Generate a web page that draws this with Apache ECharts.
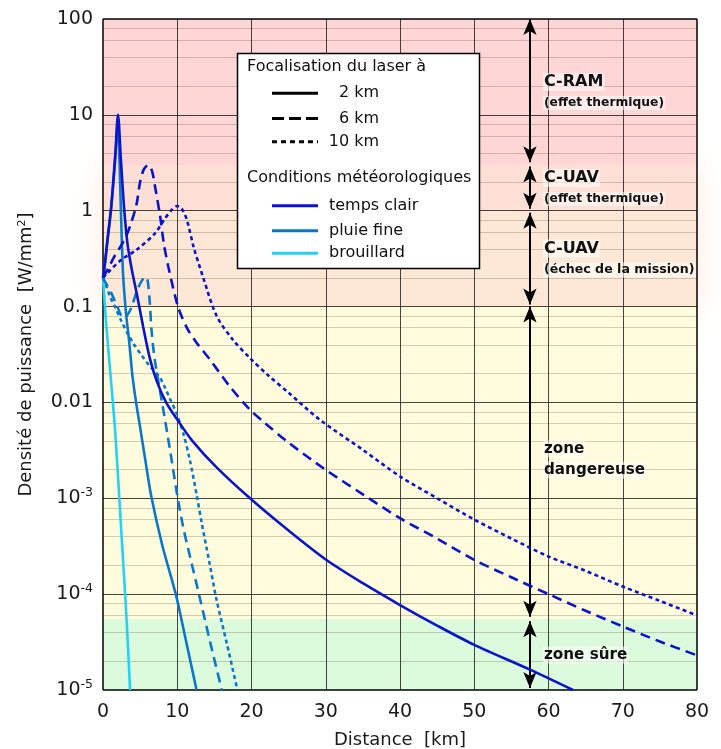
<!DOCTYPE html>
<html><head><meta charset="utf-8">
<script src="https://cdn.jsdelivr.net/npm/echarts@6/dist/echarts.min.js"></script>
<style>html,body{margin:0;padding:0;background:#fff}#c{width:721px;height:749px}</style>
</head><body><div id="c"></div>
<script>
// ---- axis values ----
const xTicks = [0, 10, 20, 30, 40, 50, 60, 70, 80];
const xGridValues = [10, 20, 30, 40, 50, 60, 70];
const decadeValues = [1e-4, 1e-3, 1e-2, 0.1, 1, 10];
const minorValues = [2e-5,4e-5,6e-5,8e-5, 2e-4,4e-4,6e-4,8e-4, 2e-3,4e-3,6e-3,8e-3,
  0.02,0.04,0.06,0.08, 0.2,0.4,0.6,0.8, 2,4,6,8, 20,40,60,80];
const yTickLabels = {'2':'100','1':'10','0':'1','-1':'0.1','-2':'0.01','-3':'10{s|-3}','-4':'10{s|-4}','-5':'10{s|-5}'};

// ---- zones ----
const bandEdges = [1e-5, 5.5e-5, 0.1, 1, 3, 100];
const zoneArrows = [[100, 3.2], [2.9, 1.05], [0.95, 0.105], [0.1, 5.8e-5], [5.2e-5, 1.05e-5]];
const arrowX = 57.5;

// ---- series values [km, W/mm2] ----
const clair2 = [[0,0.2],[0.25,0.28],[0.6,0.5],[1.1,1.1],[1.65,3.8],[2.02,10],[2.4,3.5],[2.85,1.05],[3.3,0.45],[3.85,0.25],[4.6,0.13],[5.4,0.062],[6.3,0.029],[7.2,0.017],[8.5,0.01],[9.9,0.0068],[12,0.004],[15.3,0.0021],[19.8,0.001],[25,4.6e-4],[30,2.3e-4],[35,1.3e-4],[40,7.7e-5],[45,4.7e-5],[50,2.96e-5],[57.5,1.63e-5],[63.3,1e-5]];
const clair6 = [[0,0.2],[0.7,0.25],[1.5,0.33],[2.5,0.44],[3.2,0.56],[3.8,0.75],[4.5,1.15],[5.0,2.0],[5.5,2.7],[6.1,3.0],[6.6,2.6],[7.0,1.8],[7.7,0.87],[8.2,0.45],[8.8,0.26],[10.1,0.1],[11.3,0.06],[12.6,0.042],[14.4,0.028],[17.1,0.0146],[19.8,0.0084],[21.7,0.0062],[25,3.8e-3],[30,1.98e-3],[35,1.1e-3],[40,6.2e-4],[45,3.8e-4],[50,2.28e-4],[55,1.5e-4],[60,1e-4],[65,6.7e-5],[70,4.6e-5],[75,3.2e-5],[80,2.3e-5]];
const clair10 = [[0,0.2],[0.5,0.22],[2.5,0.31],[4.5,0.39],[7,0.58],[8.3,0.82],[9.25,1.02],[10,1.12],[10.6,1.05],[11.3,0.8],[12.2,0.42],[13.5,0.2],[15.3,0.08],[17.5,0.045],[19.8,0.029],[22.3,0.019],[25,0.0126],[29.2,6.6e-3],[35,3.2e-3],[40,1.69e-3],[45,1e-3],[50,6e-4],[55,3.8e-4],[60,2.47e-4],[65,1.75e-4],[70,1.2e-4],[75,8.5e-5],[80,6e-5]];
const pluie2 = [[0,0.2],[0.25,0.27],[0.6,0.48],[1.1,1.05],[1.65,3.5],[2.0,8.5],[2.15,5],[2.3,2],[2.5,0.6],[2.7,0.22],[3.1,0.085],[3.5,0.045],[4.0,0.018],[4.5,0.0095],[5.0,0.0055],[5.7,0.0025],[6.5,1.05e-3],[8,3.2e-4],[9.8,1e-4],[11.2,3.2e-5],[12.6,1e-5]];
const pluie6 = [[0,0.2],[0.3,0.18],[1.1,0.14],[2.0,0.097],[2.7,0.077],[3.2,0.08],[3.8,0.097],[4.7,0.155],[5.3,0.19],[5.7,0.205],[6.0,0.19],[6.3,0.11],[6.55,0.055],[7.0,0.027],[8.0,0.0095],[9.0,3.3e-3],[9.9,1.2e-3],[10.8,5e-4],[12,2e-4],[13.06,9e-5],[14.5,3e-5],[16,1e-5]];
const pluie10 = [[0,0.2],[0.5,0.16],[1.0,0.125],[1.6,0.1],[2.5,0.07],[3.4,0.051],[4.2,0.04],[5.2,0.031],[6.1,0.025],[7.0,0.021],[7.7,0.018],[8.4,0.014],[9.0,0.011],[9.9,0.0077],[10.8,0.0048],[11.7,0.0025],[12.6,1.1e-3],[13.3,5.5e-4],[14.3,2.2e-4],[15.3,8.7e-5],[16.7,3e-5],[18.1,1e-5]];
const brouillard = [[0,0.2],[0.4,0.07],[0.8,0.03],[1.2,0.013],[1.6,0.0055],[2.0,0.0018],[2.4,5.5e-4],[2.8,1.7e-4],[3.2,5e-5],[3.65,1e-5]];

const legendFocus = ['2 km', '6 km', '10 km'];
const legendWeather = ['temps clair', 'pluie fine', 'brouillard'];

// ---- styles ----
const C_CLAIR = '#0a14c8', C_PLUIE = '#0a78c8', C_BROU = '#22d2f2';
const DASH = [10, 6], DOT = [4, 3.3];
const bandColors = ['#dcfadc', '#fffcde', '#fde8d8', '#fddfd6', '#ffd6d6'];
const FONT = '"DejaVu Sans", sans-serif';
const lg = v => Math.log10(v);
const toLog = arr => arr.map(([x, v]) => [x, lg(v)]);

const chart = echarts.init(document.getElementById('c'), null, {renderer: 'canvas'});

function curve(name, data, color, type) {
  return {
    name, type: 'line', data: toLog(data), z: 10, showSymbol: false, symbol: 'none', silent: true,
    smooth: 0.3,
    lineStyle: {color, width: 2.6, type, cap: 'butt'}, animation: false
  };
}

const bandAreas = [];
for (let i = 0; i < bandEdges.length - 1; i++) {
  bandAreas.push([{yAxis: lg(bandEdges[i]), itemStyle: {color: bandColors[i]}}, {yAxis: lg(bandEdges[i + 1])}]);
}
const gridLines = [];
minorValues.forEach(v => gridLines.push({yAxis: lg(v), lineStyle: {color: 'rgba(70,30,0,0.22)', width: 1, type: 'solid'}}));
decadeValues.forEach(v => gridLines.push({yAxis: lg(v), lineStyle: {color: 'rgba(0,0,0,0.72)', width: 1, type: 'solid'}}));
xGridValues.forEach(v => gridLines.push({xAxis: v, lineStyle: {color: 'rgba(0,0,0,0.72)', width: 1, type: 'solid'}}));
[1e-5, 100].forEach(v => gridLines.push({yAxis: lg(v), lineStyle: {color: '#000', width: 1.5, type: 'solid'}}));
[0, 80].forEach(v => gridLines.push({xAxis: v, lineStyle: {color: '#000', width: 1.5, type: 'solid'}}));

const arrows = zoneArrows.map(([a, b]) => [{coord: [arrowX, lg(a)]}, {coord: [arrowX, lg(b)]}]);

// ---- graphic: glow, legend and zone labels ----
const g = [];
g.push({type: 'rect', z: -5, shape: {x: 103, y: 170, width: 594, height: 136},
  style: {fill: 'rgba(253,228,212,1)', shadowBlur: 26, shadowColor: 'rgba(252,218,198,0.6)'}});
g.push({type: 'rect', z: 100, shape: {x: 237.5, y: 53.5, width: 242, height: 215},
  style: {fill: '#fff', stroke: '#000', lineWidth: 1.5}});
const txt = (text, x, y, opt) => Object.assign({type: 'text', z: 101, x, y,
  style: Object.assign({text, font: '16px ' + FONT, fill: '#111', verticalAlign: 'middle', align: 'left'}, opt || {})});
g.push(txt('Focalisation du laser à', 247, 67));
const focusY = [93.3, 118.5, 141.7], focusDash = [null, [12, 5], [5, 4]];
legendFocus.forEach((t, i) => {
  g.push({type: 'line', z: 101, shape: {x1: 272, y1: focusY[i], x2: 318, y2: focusY[i]},
    style: {stroke: '#000', lineWidth: 3, lineDash: focusDash[i]}});
  g.push(txt(t, 379, focusY[i], {align: 'right'}));
});
g.push(txt('Conditions météorologiques', 247, 178));
const wY = [205.7, 230.7, 253.3], wC = [C_CLAIR, C_PLUIE, C_BROU];
legendWeather.forEach((t, i) => {
  g.push({type: 'line', z: 101, shape: {x1: 272, y1: wY[i], x2: 318, y2: wY[i]},
    style: {stroke: wC[i], lineWidth: 3}});
  g.push(txt(t, 329, wY[i]));
});
const zoneLabels = [
  ['C-RAM', 82, 16], ['(effet thermique)', 103, 12.3],
  ['C-UAV', 178, 16], ['(effet thermique)', 199, 12.3],
  ['C-UAV', 248.5, 16], ['(échec de la mission)', 270, 12.6],
  ['zone', 449, 15.2], ['dangereuse', 470, 15.2], ['zone sûre', 655, 15.2]
];
zoneLabels.forEach(([t, y, fs]) => g.push(txt(t, 543, y, {
  font: 'bold ' + fs + 'px ' + FONT, fill: '#111', backgroundColor: 'rgba(255,255,255,0.55)', padding: [1, 1, 1, 1]})));

const option = {
  animation: false,
  backgroundColor: '#fff',
  grid: {left: 103, top: 19, right: 24, bottom: 59, show: false, containLabel: false, outerBoundsMode: 'none'},
  xAxis: {
    type: 'value', min: 0, max: 80, interval: 10,
    name: 'Distance  [km]', nameLocation: 'middle', nameGap: 41,
    nameTextStyle: {fontFamily: FONT, fontSize: 18, color: '#1a1a1a'},
    axisLine: {show: false}, axisTick: {show: false}, splitLine: {show: false},
    axisLabel: {fontFamily: FONT, fontSize: 19, color: '#1a1a1a', margin: 13,
      formatter: v => xTicks.indexOf(v) >= 0 ? String(v) : ''}
  },
  yAxis: {
    type: 'value', min: -5, max: 2, interval: 1,
    name: 'Densité de puissance  [W/mm{s|2}]', nameLocation: 'middle', nameGap: 68, nameRotate: 90,
    nameTextStyle: {fontFamily: FONT, fontSize: 18, color: '#1a1a1a',
      rich: {s: {fontFamily: FONT, fontSize: 11, color: '#1a1a1a', verticalAlign: 'top', lineHeight: 10}}},
    axisLine: {show: false}, axisTick: {show: false}, splitLine: {show: false},
    axisLabel: {
      fontFamily: FONT, fontSize: 19, color: '#1a1a1a', margin: 10, lineHeight: 24,
      formatter: v => yTickLabels[String(Math.round(v))] || '',
      rich: {s: {fontFamily: FONT, fontSize: 12.5, color: '#1a1a1a', verticalAlign: 'top', lineHeight: 12}}
    }
  },
  series: [
    {type: 'line', data: [], silent: true, z: 1,
      markArea: {silent: true, data: bandAreas, label: {show: false}}},
    {type: 'line', data: [], silent: true, z: 2,
      markLine: {silent: true, symbol: ['none', 'none'], label: {show: false}, animation: false, data: gridLines}},
    {type: 'line', data: [], silent: true, z: 3,
      markLine: {silent: true, symbol: ['arrow', 'arrow'], symbolSize: [10, 16], label: {show: false}, animation: false,
        lineStyle: {color: '#000', width: 2, type: 'solid'}, data: arrows}},
    curve('brouillard 2 km', brouillard, C_BROU, 'solid'),
    curve('pluie fine 10 km', pluie10, C_PLUIE, DOT),
    curve('pluie fine 6 km', pluie6, C_PLUIE, DASH),
    curve('pluie fine 2 km', pluie2, C_PLUIE, 'solid'),
    curve('temps clair 10 km', clair10, C_CLAIR, DOT),
    curve('temps clair 6 km', clair6, C_CLAIR, DASH),
    curve('temps clair 2 km', clair2, C_CLAIR, 'solid')
  ],
  graphic: {elements: g}
};
chart.setOption(option);
</script></body></html>
